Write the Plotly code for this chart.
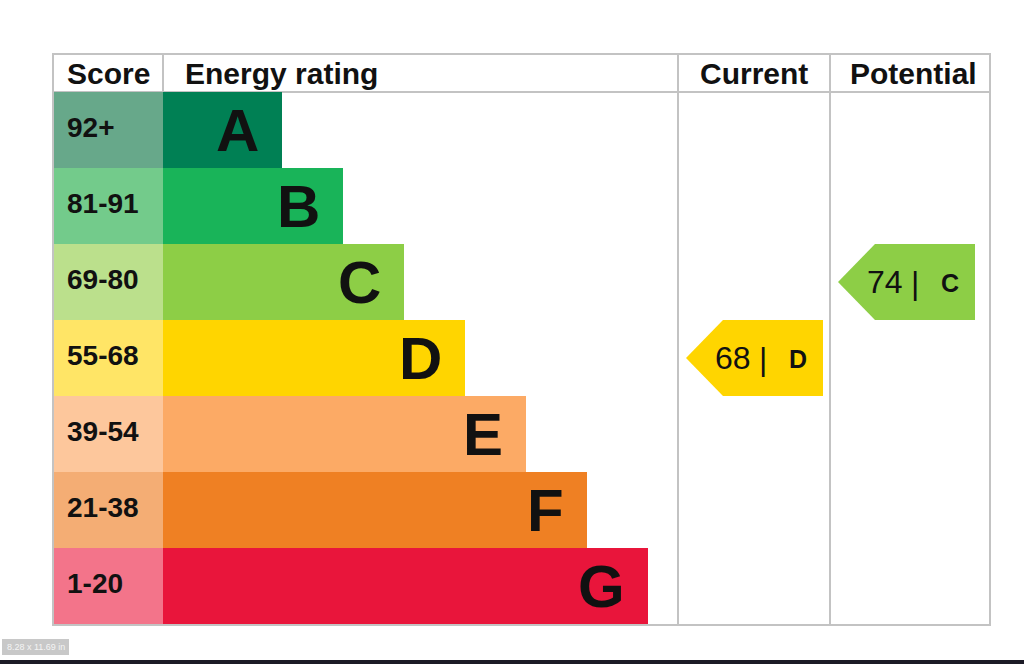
import plotly.graph_objects as go

# ---- data ----
bands = ["A", "B", "C", "D", "E", "F", "G"]
score_ranges = ["92+", "81-91", "69-80", "55-68", "39-54", "21-38", "1-20"]
bar_colors = ["#008054", "#19b459", "#8dce46", "#ffd500", "#fcaa65", "#ef8023", "#e9153b"]
score_colors = ["#67a88a", "#73cb8b", "#bbe08c", "#ffe566", "#fdc79c", "#f4ad74", "#f3748a"]
current_score = 68
current_band = "D"
potential_score = 74
potential_band = "C"
headers = ["Score", "Energy rating", "Current", "Potential"]

# ---- layout geometry (pixel-like data units) ----
W, H = 1024, 664
left, right, top, bottom = 53, 990, 54, 625
header_bottom = 92
row_h = 76
score_right = 163
cur_left, pot_left = 678, 830
bar_base_len, bar_step = 119, 61
grid = "#c3c3c3"

def row_center(i):
    return header_bottom + row_h * i + row_h / 2

fig = go.Figure()

# score cells
fig.add_trace(go.Bar(
    y=[row_center(i) for i in range(len(bands))],
    x=[score_right - left] * len(bands),
    base=left, orientation="h", width=row_h,
    marker=dict(color=score_colors, line=dict(width=0)),
    hoverinfo="skip", showlegend=False))

# energy bars
fig.add_trace(go.Bar(
    y=[row_center(i) for i in range(len(bands))],
    x=[bar_base_len + bar_step * i for i in range(len(bands))],
    base=score_right, orientation="h", width=row_h,
    marker=dict(color=bar_colors, line=dict(width=0)),
    hoverinfo="skip", showlegend=False))

annotations = []
for i, (b, s) in enumerate(zip(bands, score_ranges)):
    yc = row_center(i)
    annotations.append(dict(x=65, y=yc - 3, text=f"<b>{s}</b>", xanchor="left", yanchor="middle",
                            showarrow=False, font=dict(size=28, color="#111111", family="Liberation Sans Narrow, Liberation Sans")))
    bar_end = score_right + bar_base_len + bar_step * i
    annotations.append(dict(x=bar_end - 21, y=yc, text=f"<b>{b}</b>", xanchor="right", yanchor="middle",
                            showarrow=False, font=dict(size=60, color="#111111", family="Liberation Sans")))

# header texts
hdr_font = dict(size=30, color="#111111", family="Liberation Sans")
annotations.append(dict(x=65, y=73, text=f"<b>{headers[0]}</b>", xanchor="left", yanchor="middle", showarrow=False, font=hdr_font))
annotations.append(dict(x=183, y=73, text=f"<b>{headers[1]}</b>", xanchor="left", yanchor="middle", showarrow=False, font=hdr_font))
annotations.append(dict(x=(cur_left + pot_left) / 2, y=73, text=f"<b>{headers[2]}</b>", xanchor="center", yanchor="middle", showarrow=False, font=hdr_font))
annotations.append(dict(x=(pot_left + right) / 2 + 3, y=73, text=f"<b>{headers[3]}</b>", xanchor="center", yanchor="middle", showarrow=False, font=hdr_font))

# arrows
def add_arrow(score, band, col_left):
    i = bands.index(band)
    y0 = header_bottom + row_h * i
    y1 = y0 + row_h
    yc = (y0 + y1) / 2
    tip = col_left + 8
    body = tip + 37
    rx = tip + 137
    fig.add_trace(go.Scatter(
        x=[tip, body, rx, rx, body, tip], y=[yc, y0, y0, y1, y1, yc],
        mode="lines", fill="toself", fillcolor=bar_colors[i],
        line=dict(width=0, color=bar_colors[i]), hoverinfo="skip", showlegend=False))
    annotations.append(dict(x=tip + 27, y=yc, text=str(score), xanchor="left", yanchor="middle", showarrow=False,
                            font=dict(size=32, color="#111111", family="Liberation Sans")))
    annotations.append(dict(x=tip + 77, y=yc + 1, text="|", xanchor="center", yanchor="middle", showarrow=False,
                            font=dict(size=32, color="#111111", family="Liberation Sans")))
    annotations.append(dict(x=tip + 112, y=yc + 1, text=f"<b>{band}</b>", xanchor="center", yanchor="middle", showarrow=False,
                            font=dict(size=25, color="#111111", family="Liberation Sans")))

add_arrow(current_score, current_band, cur_left)
add_arrow(potential_score, potential_band, pot_left)

# grid lines
shapes = []
lw = 2
shapes.append(dict(type="rect", x0=left, x1=right, y0=top, y1=bottom, line=dict(color=grid, width=lw), layer="above"))
shapes.append(dict(type="line", x0=left, x1=right, y0=header_bottom, y1=header_bottom, line=dict(color=grid, width=lw), layer="below"))
shapes.append(dict(type="line", x0=score_right, x1=score_right, y0=top, y1=header_bottom, line=dict(color=grid, width=lw)))
shapes.append(dict(type="line", x0=cur_left, x1=cur_left, y0=top, y1=bottom, line=dict(color=grid, width=lw)))
shapes.append(dict(type="line", x0=pot_left, x1=pot_left, y0=top, y1=bottom, line=dict(color=grid, width=lw)))
# bottom dark strip of the viewer
shapes.append(dict(type="rect", x0=0, x1=W, y0=660, y1=H, fillcolor="#1c1b26", line=dict(width=0)))
# page size badge
shapes.append(dict(type="rect", x0=2, x1=69, y0=639, y1=655, fillcolor="#c8c8c8", line=dict(width=0)))
annotations.append(dict(x=35.5, y=647, text="8.28 x 11.69 in", xanchor="center", yanchor="middle", showarrow=False,
                        font=dict(size=9, color="#f4f4f4", family="Liberation Sans")))

fig.update_layout(
    width=W, height=H, margin=dict(l=0, r=0, t=0, b=0),
    paper_bgcolor="white", plot_bgcolor="white",
    xaxis=dict(range=[0, W], visible=False, fixedrange=True),
    yaxis=dict(range=[H, 0], visible=False, fixedrange=True),
    barmode="overlay", shapes=shapes, annotations=annotations)

fig.write_html("out.html", config={"displayModeBar": False},
               post_script="document.body.style.margin='0';document.body.style.overflow='hidden';")
